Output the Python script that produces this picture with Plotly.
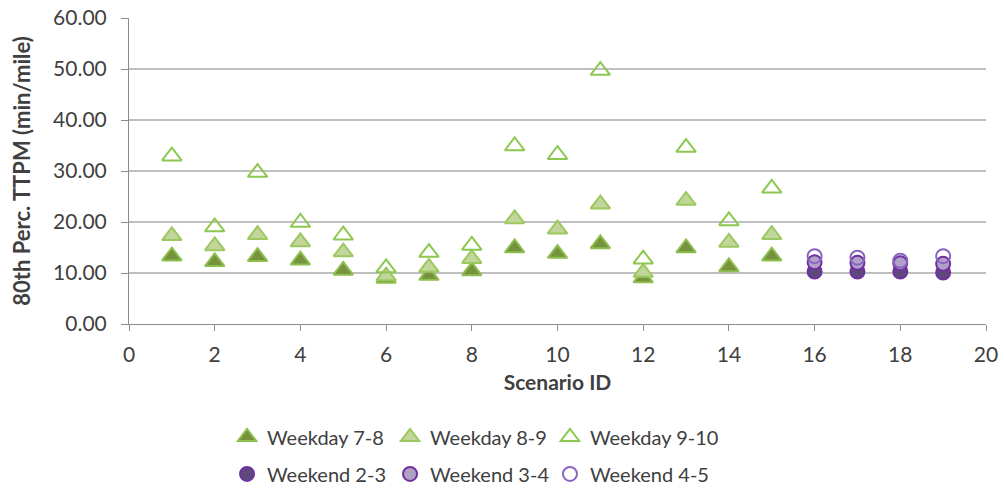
import plotly.graph_objects as go

# Scenario IDs
weekday_ids = list(range(1, 16))
weekend_ids = [16, 17, 18, 19]

# 80th percentile travel time per mile (min/mile)
weekday_7_8 = [13.3, 12.2, 13.2, 12.5, 10.5, 8.9, 9.5, 10.4, 14.9, 13.8, 15.7, 9.0, 14.9, 11.2, 13.3]
weekday_8_9 = [17.3, 15.3, 17.5, 16.1, 14.1, 9.4, 11.1, 12.8, 20.6, 18.6, 23.5, 10.1, 24.2, 16.0, 17.5]
weekday_9_10 = [32.9, 19.0, 29.7, 19.9, 17.4, 11.0, 14.0, 15.4, 34.9, 33.2, 49.7, 12.7, 34.6, 20.2, 26.6]
weekend_2_3 = [10.3, 10.3, 10.3, 10.1]
weekend_3_4 = [12.1, 12.0, 11.9, 11.8]
weekend_4_5 = [13.3, 13.0, 12.4, 13.3]

x_ticks = list(range(0, 21, 2))
y_ticks = list(range(0, 61, 10))

FONT = "Lato"
TEXT = "#404040"

# name, x, y, symbol, fill, outline
series = [
    ("Weekday 7-8", weekday_ids, weekday_7_8, "triangle-up", "#76923C", "#8CBF4E"),
    ("Weekday 8-9", weekday_ids, weekday_8_9, "triangle-up", "#C2D69B", "#9BC85F"),
    ("Weekday 9-10", weekday_ids, weekday_9_10, "triangle-up-open", "#FFFFFF", "#8CC850"),
    ("Weekend 2-3", weekend_ids, weekend_2_3, "circle", "#5F497A", "#7030A0"),
    ("Weekend 3-4", weekend_ids, weekend_3_4, "circle", "#B2A1C7", "#7030A0"),
    ("Weekend 4-5", weekend_ids, weekend_4_5, "circle-open", "#FFFFFF", "#8A63C0"),
]

# legend grid: three columns, two rows (one legend box per entry)
legend_cols = [0.1144, 0.3046, 0.4912]
legend_rows = [-0.369, -0.49]

fig = go.Figure()
legend_layout = {}
for i, (name, xs, ys, sym, fill, line) in enumerate(series):
    key = "legend" if i == 0 else f"legend{i + 1}"
    is_tri = sym.startswith("triangle")
    fig.add_trace(go.Scatter(
        x=xs, y=ys, name=name, mode="markers", legend=key,
        marker=dict(symbol=sym, size=17 if is_tri else 14,
                    color=line if sym.endswith("open") else fill,
                    line=dict(color=line, width=2)),
    ))
    legend_layout[key] = dict(
        x=legend_cols[i % 3], y=legend_rows[i // 3],
        xanchor="left", yanchor="middle", orientation="h",
        font=dict(family=FONT, size=20, color=TEXT),
        itemwidth=30, bgcolor="rgba(0,0,0,0)",
    )

fig.update_layout(
    width=1004, height=490,
    margin=dict(l=129, r=18, t=18, b=166, autoexpand=False),
    paper_bgcolor="white", plot_bgcolor="white",
    font=dict(family=FONT, color=TEXT),
    showlegend=True,
    **legend_layout,
    xaxis=dict(
        range=[0, 20], tickvals=x_ticks, ticktext=[str(v) for v in x_ticks],
        showgrid=False, zeroline=False, showline=True, linecolor="#8C8C8C", linewidth=1,
        ticks="outside", ticklen=6, tickcolor="#8C8C8C", ticklabelstandoff=6,
        tickfont=dict(family=FONT, size=21, color=TEXT), automargin=False,
        title=dict(text="<b>Scenario ID</b>", font=dict(family=FONT, size=21, color=TEXT), standoff=10),
    ),
    yaxis=dict(
        range=[0, 60], tickvals=y_ticks, ticktext=[f"{v:.2f}" for v in y_ticks],
        showgrid=True, gridcolor="#BFBFBF", gridwidth=2, zeroline=False,
        showline=True, linecolor="#8C8C8C", linewidth=1,
        ticks="outside", ticklen=7, tickcolor="#8C8C8C", ticklabelstandoff=10,
        tickfont=dict(family=FONT, size=21, color=TEXT), automargin=False,
        title=dict(text="<b>80th Perc. TTPM (min/mile)</b>", font=dict(family=FONT, size=22, color=TEXT), standoff=16),
    ),
)

fig.write_html("out.html")
